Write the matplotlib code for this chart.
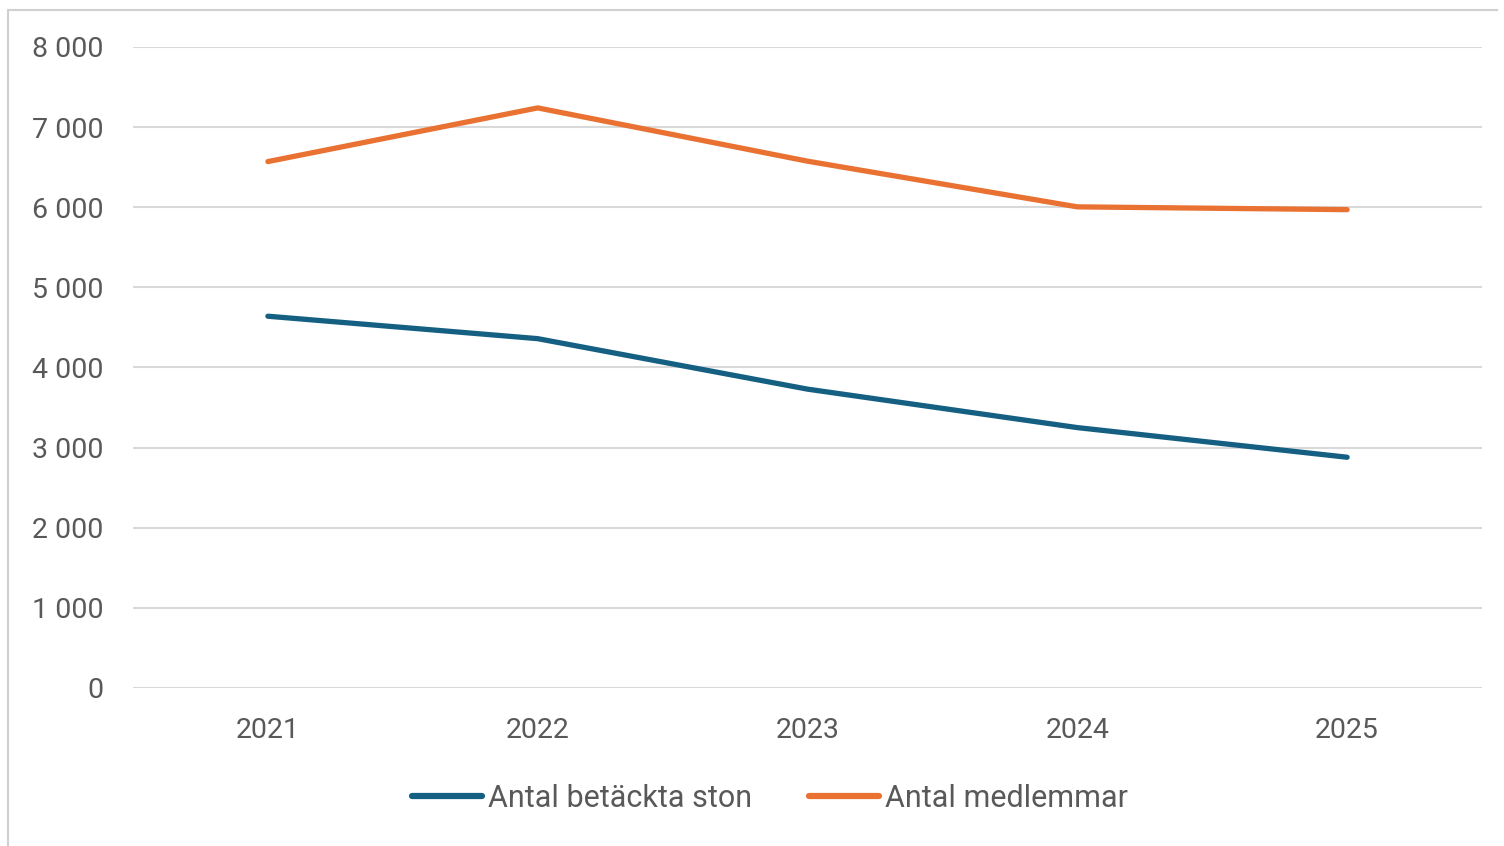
import matplotlib
matplotlib.use("Agg")
import matplotlib.pyplot as plt
from matplotlib.lines import Line2D
from matplotlib.ticker import FuncFormatter, MultipleLocator

years = ["2021", "2022", "2023", "2024", "2025"]
betackta_ston = [4640, 4360, 3730, 3250, 2880]
medlemmar = [6570, 7240, 6575, 6005, 5970]
series_labels = ["Antal betäckta ston", "Antal medlemmar"]

BLUE = "#156082"
ORANGE = "#E97132"
GREY_TXT = "#595959"
GRID = "#D9D9D9"

plt.rcParams['font.family'] = ['Roboto', 'DejaVu Sans']

fig = plt.figure(figsize=(15.04, 8.46), dpi=100)
ax = fig.add_axes([133/1504, 1-688/846, (1482-133)/1504, (688-47)/846])

x = list(range(len(years)))
ax.plot(x, betackta_ston, color=BLUE, lw=3.8, solid_capstyle='round', solid_joinstyle='round', label=series_labels[0], zorder=3)
ax.plot(x, medlemmar, color=ORANGE, lw=3.8, solid_capstyle='round', solid_joinstyle='round', label=series_labels[1], zorder=3)

ax.set_xlim(-0.5, len(years) - 0.5)
ax.set_ylim(0, 8000)
ax.yaxis.set_major_locator(MultipleLocator(1000))
ax.yaxis.set_major_formatter(FuncFormatter(lambda v, p: f"{int(v):,}".replace(",", " ")))
ax.set_xticks(x)
ax.set_xticklabels(years)
ax.grid(axis='y', color=GRID, lw=1.5, zorder=0)
ax.set_axisbelow(True)
for s in ax.spines.values():
    s.set_visible(False)
ax.tick_params(axis='both', length=0, labelsize=20.5, labelcolor=GREY_TXT)
ax.tick_params(axis='y', pad=21.5)
ax.tick_params(axis='x', pad=21)

handles = [Line2D([], [], color=BLUE, lw=4.5, solid_capstyle='round'),
           Line2D([], [], color=ORANGE, lw=4.5, solid_capstyle='round')]
leg = fig.legend(handles, series_labels, loc='center', bbox_to_anchor=(770/1504, 1-798/846),
                 ncol=2, frameon=False, fontsize=22, handlelength=2.3, handletextpad=0.2,
                 columnspacing=1.85, labelcolor=GREY_TXT)

# outer frame (left and top edges visible in reference)
fig.add_artist(Line2D([8/1504, 8/1504], [0, 1-10/846], color="#D0D0D0", lw=1.5, transform=fig.transFigure))
fig.add_artist(Line2D([8/1504, 1497/1504], [1-10/846, 1-10/846], color="#D0D0D0", lw=1.5, transform=fig.transFigure))

fig.savefig("out.png", dpi=100)
